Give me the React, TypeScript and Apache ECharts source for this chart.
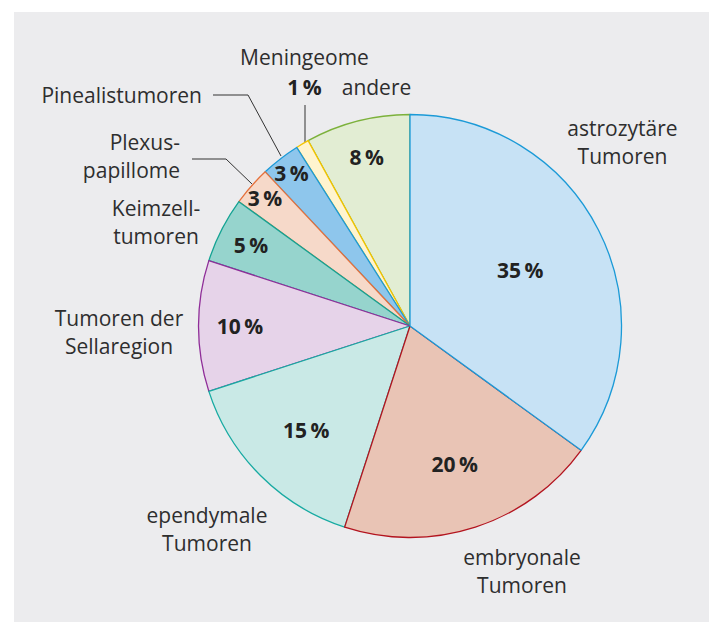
import React, { useEffect, useRef } from 'react';
import * as echarts from 'echarts';

// ---- data (clockwise from 12 o'clock) ----
const CATEGORIES = [
  'astrozytäre Tumoren',
  'embryonale Tumoren',
  'ependymale Tumoren',
  'Tumoren der Sellaregion',
  'Keimzelltumoren',
  'Plexuspapillome',
  'Pinealistumoren',
  'Meningeome',
  'andere',
];
const LABELS = [
  'astrozytäre\nTumoren',
  'embryonale\nTumoren',
  'ependymale\nTumoren',
  'Tumoren der\nSellaregion',
  'Keimzell-\ntumoren',
  'Plexus-\npapillome',
  'Pinealistumoren',
  'Meningeome',
  'andere',
];
const VALUES = [35, 20, 15, 10, 5, 3, 3, 1, 8];

// ---- styles ----
const FILL = ['#c7e2f5', '#e9c4b5', '#c9e9e6', '#e6d3e9', '#96d4cd', '#f6d9c9', '#8ec6ec', '#fff4cf', '#e2edd3'];
const STROKE = ['#1b9ad7', '#b3141f', '#17aaa2', '#8f2d98', '#14a393', '#e5703b', '#1b9ad7', '#f4c400', '#7cb13b'];
// radial position (fraction of radius) of the percentage label; null = shown outside
const PCT_RADIUS: (number | null)[] = [0.57, 0.67, 0.68, 0.79, 0.83, 0.9, 0.9, null, 0.81];
// category label anchor [x, y, align]
const LABEL_POS: [number, number, string][] = [
  [622.5, 141.5, 'center'],
  [522, 571, 'center'],
  [207, 529, 'center'],
  [119, 331.5, 'center'],
  [156, 222, 'center'],
  [180, 156, 'right'],
  [202, 95, 'right'],
  [304.5, 72, 'center'],
  [376.5, 87, 'center'],
];
const LEADERS: Record<number, number[][]> = {
  5: [[252, 184], [226, 159], [192, 159]],
  6: [[281, 156], [248, 95], [213, 95]],
  7: [[305, 142], [305, 123], [305, 105]],
};

const CENTER = [410, 326];
const R = 211.5;
const FONT = 'Open Sans';

export default function App() {
  const ref = useRef<HTMLDivElement>(null);
  useEffect(() => {
    if (!ref.current) return;
    const chart = echarts.init(ref.current, undefined, { renderer: 'svg' });
    // draw in reverse order so that each slice's border lies on top properly
    const order = CATEGORIES.map((_, i) => i).reverse();

    const mainData = order.map((k) => ({
      name: CATEGORIES[k],
      value: VALUES[k],
      itemStyle: { color: FILL[k], borderColor: STROKE[k], borderWidth: 1.3 },
      labelLine: { show: LEADERS[k] != null },
    }));

    const pctSeries: any[] = [];
    CATEGORIES.forEach((_, k) => {
      const ratio = PCT_RADIUS[k];
      if (ratio == null) return;
      pctSeries.push({
        type: 'pie',
        center: CENTER,
        radius: [0, 2 * ratio * R],
        startAngle: 90,
        clockwise: false,
        silent: true,
        avoidLabelOverlap: false,
        data: order.map((j) => ({
          name: CATEGORIES[j],
          value: VALUES[j],
          label: { show: j === k },
        })),
        itemStyle: { color: 'transparent', borderWidth: 0 },
        labelLine: { show: false },
        label: {
          position: 'inside',
          formatter: (p: any) => `${p.value}\u2009%`,
          fontFamily: FONT,
          fontSize: 21,
          fontWeight: 'bold',
          color: '#222222',
        },
        emphasis: { disabled: true },
      });
    });

    chart.setOption({
      animation: false,
      backgroundColor: '#ffffff',
      graphic: [
        {
          type: 'rect',
          z: -10,
          silent: true,
          shape: { x: 14, y: 12, width: 695, height: 610 },
          style: { fill: '#ececee' },
        },
      ],
      series: [
        {
          type: 'pie',
          center: CENTER,
          radius: [0, R],
          startAngle: 90,
          clockwise: false,
          silent: true,
          avoidLabelOverlap: false,
          data: mainData,
          emphasis: { disabled: true },
          label: {
            show: true,
            position: 'outside',
            fontFamily: FONT,
            fontSize: 21,
            lineHeight: 28,
            color: '#2e2e2e',
            formatter: (p: any) => {
              const k = order[p.dataIndex];
              if (PCT_RADIUS[k] == null) {
                return `{n|${LABELS[k]}}\n{p|${VALUES[k]}\u2009%}`;
              }
              return LABELS[k];
            },
            rich: {
              n: { fontFamily: FONT, fontSize: 21, lineHeight: 30, color: '#2e2e2e' },
              p: { fontFamily: FONT, fontSize: 21, lineHeight: 30, fontWeight: 'bold', color: '#222222' },
            },
          },
          labelLine: {
            show: true,
            lineStyle: { color: '#333333', width: 1 },
          },
          labelLayout: (params: any) => {
            const k = order[params.dataIndex];
            const [x, y, align] = LABEL_POS[k];
            const out: any = { x, y, align, verticalAlign: 'middle' };
            if (LEADERS[k]) out.labelLinePoints = LEADERS[k];
            return out;
          },
        },
        ...pctSeries,
      ],
    });
    return () => chart.dispose();
  }, []);
  return (
    <div
      ref={ref}
      style={{ position: 'fixed', left: 0, top: 0, width: 709, height: 622 }}
    />
  );
}
